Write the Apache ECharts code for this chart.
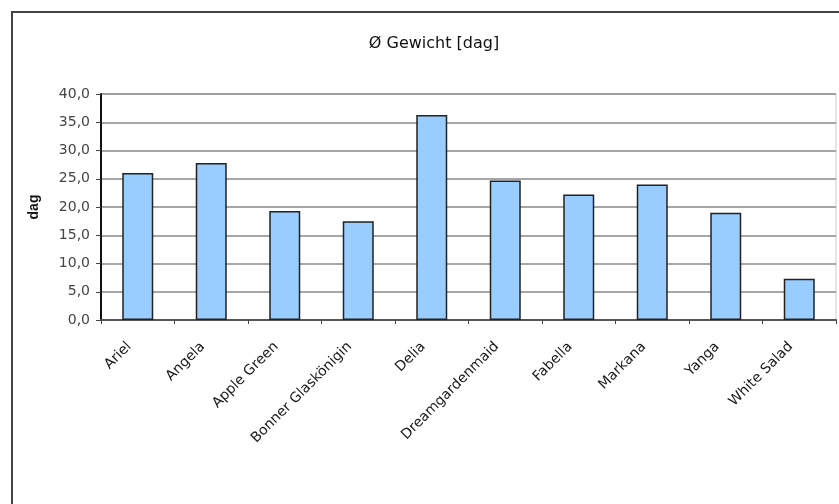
<!DOCTYPE html>
<html>
<head>
<meta charset="utf-8">
<script src="https://cdn.jsdelivr.net/npm/echarts@6/dist/echarts.min.js"></script>
<style>
html,body{margin:0;padding:0;background:#fff;}
#c{width:839px;height:504px;}
</style>
</head>
<body>
<div id="c"></div>
<script>
const categories = ["Ariel", "Angela", "Apple Green", "Bonner Glaskönigin", "Delia", "Dreamgardenmaid", "Fabella", "Markana", "Yanga", "White Salad"];
const values = [26.0, 27.8, 19.3, 17.5, 36.3, 24.7, 22.2, 24.0, 19.0, 7.3];
const titleText = "Ø Gewicht [dag]";
const yName = "dag";

const FONT = 'DejaVu Sans, Verdana, sans-serif';
const chart = echarts.init(document.getElementById('c'), null, {renderer: 'canvas'});
chart.setOption({
  animation: false,
  backgroundColor: '#fff',
  title: {
    text: titleText,
    left: 429, top: 31, textAlign: 'center',
    textStyle: {fontFamily: FONT, fontSize: 16, fontWeight: 'normal', color: '#111'}
  },
  graphic: [
    {type: 'rect', shape: {x: 12, y: 12, width: 1000, height: 1000}, style: {fill: 'none', stroke: '#444', lineWidth: 2}, z: 0}
  ],
  grid: {
    left: 101, top: 94, width: 735, height: 226,
    containLabel: false, outerBoundsMode: 'none',
    show: true, borderColor: '#ccc', borderWidth: 1, backgroundColor: 'transparent'
  },
  xAxis: {
    type: 'category',
    data: categories,
    boundaryGap: true,
    axisLine: {lineStyle: {color: '#555', width: 2}},
    axisTick: {show: true, alignWithLabel: false, length: 4, lineStyle: {color: '#444'}},
    axisLabel: {interval: 0, rotate: 45, margin: 16, padding: [0, 12, 0, 0], fontFamily: FONT, fontSize: 14, color: '#1a1a1a'},
    splitLine: {show: false}
  },
  yAxis: {
    type: 'value',
    min: 0, max: 40, interval: 5,
    name: yName,
    nameLocation: 'middle',
    nameGap: 60,
    nameRotate: 90,
    nameTextStyle: {fontFamily: 'Liberation Sans, Arial', fontSize: 14, fontWeight: 'bold', color: '#111'},
    axisLine: {show: true, lineStyle: {color: '#111', width: 2}},
    axisTick: {show: true, length: 5, lineStyle: {color: '#444'}},
    axisLabel: {
      formatter: v => v.toFixed(1).replace('.', ','),
      fontFamily: FONT, fontSize: 14, color: '#444', margin: 11
    },
    splitLine: {show: true, lineStyle: {color: '#888', width: 1.5}}
  },
  series: [{
    type: 'bar',
    data: values,
    barWidth: 31,
    itemStyle: {color: '#99CCFF', borderColor: '#222', borderWidth: 1.5}
  }]
});
</script>
</body>
</html>
